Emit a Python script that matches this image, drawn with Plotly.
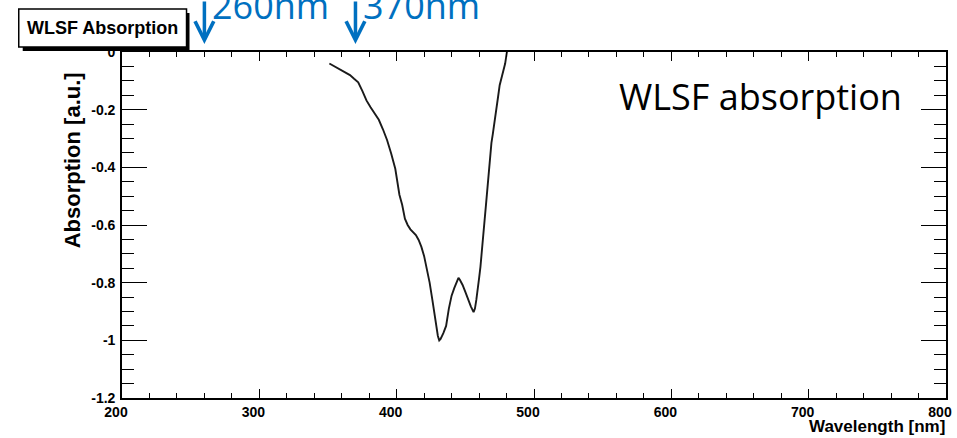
import plotly.graph_objects as go

# ---------------- data ----------------
wavelength_nm = [351, 354, 357, 360, 363, 366, 369, 372, 375, 378, 381, 384, 387, 390,
                 393, 396, 399, 402, 404, 406, 408, 410, 412, 414, 416, 418, 420, 422,
                 424, 426, 428, 430, 431, 432, 434, 436, 438, 440, 442, 444, 445, 446,
                 448, 450, 452, 454, 456, 457, 458, 459, 460, 461, 462, 463, 464, 465,
                 466, 467, 468, 469, 470, 471, 472, 473, 474, 475, 476, 477, 478, 479,
                 480, 481, 482]
absorption = [-0.040, -0.048, -0.055, -0.062, -0.070, -0.080, -0.093, -0.105, -0.135,
              -0.168, -0.192, -0.212, -0.235, -0.268, -0.305, -0.352, -0.405, -0.495,
              -0.530, -0.578, -0.600, -0.615, -0.625, -0.635, -0.652, -0.676, -0.708,
              -0.750, -0.800, -0.860, -0.925, -0.985, -1.000, -0.995, -0.975, -0.950,
              -0.890, -0.845, -0.818, -0.795, -0.783, -0.790, -0.808, -0.832, -0.860,
              -0.882, -0.902, -0.890, -0.860, -0.830, -0.785, -0.745, -0.700, -0.640,
              -0.585, -0.532, -0.475, -0.420, -0.350, -0.315, -0.285, -0.255, -0.220,
              -0.185, -0.150, -0.115, -0.098, -0.082, -0.062, -0.040, -0.008, 0.020, 0.050]

x_tick_vals = [200, 300, 400, 500, 600, 700, 800]
x_tick_text = ["200", "300", "400", "500", "600", "700", "800"]
y_tick_vals = [-1.2, -1.0, -0.8, -0.6, -0.4, -0.2, 0.0]
y_tick_text = ["-1.2", "-1", "-0.8", "-0.6", "-0.4", "-0.2", "0"]

marker_wavelengths = [260, 370]
marker_labels = ["260nm", "370nm"]

title_text = "WLSF Absorption"
x_title = "Wavelength [nm]"
y_title = "Absorption [a.u.]"
legend_text = "WLSF absorption"

# ---------------- layout geometry ----------------
W, H = 957, 438
ML, MR, MT, MB = 122, 5, 52, 40
PW, PH = W - ML - MR, H - MT - MB


def px_x(px):
    return (px - ML) / PW


def px_y(py):
    return (H - MB - py) / PH


BLUE = "#0070C0"
AXFONT = dict(family="Liberation Sans, Arial, sans-serif", size=14, color="black", weight="bold")

fig = go.Figure()
fig.add_trace(go.Scatter(x=wavelength_nm, y=absorption, mode="lines",
                         line=dict(color="#1a1a1a", width=1.9), showlegend=False,
                         hoverinfo="skip"))

fig.update_xaxes(range=[200, 800], tickvals=x_tick_vals, ticktext=x_tick_text,
                 ticks="inside", ticklen=9, tickwidth=1.3, tickcolor="black",
                 showline=True, linecolor="black", linewidth=1.6, mirror="allticks",
                 showgrid=False, zeroline=False, tickfont=AXFONT, ticklabelshift=-6,
                 minor=dict(dtick=20, tick0=200, ticks="inside", ticklen=5,
                            tickwidth=1.2, tickcolor="black", showgrid=False))
fig.update_yaxes(range=[-1.2, 0], tickvals=y_tick_vals, ticktext=y_tick_text,
                 ticks="inside", ticklen=25, tickwidth=1.3, tickcolor="black",
                 showline=True, linecolor="black", linewidth=1.6, mirror="allticks",
                 showgrid=False, zeroline=False, tickfont=AXFONT, ticklabelstandoff=2,
                 minor=dict(dtick=0.05, tick0=0, ticks="inside", ticklen=12,
                            tickwidth=1.2, tickcolor="black", showgrid=False))

shapes = [
    # title box shadow and box
    dict(type="rect", xref="paper", yref="paper", x0=px_x(22), x1=px_x(190),
         y0=px_y(51), y1=px_y(13), fillcolor="black", line=dict(width=0), layer="above"),
    dict(type="rect", xref="paper", yref="paper", x0=px_x(18), x1=px_x(187),
         y0=px_y(47), y1=px_y(9), fillcolor="white", line=dict(color="black", width=1.5),
         layer="above"),
]

annotations = [
    dict(text=title_text, xref="paper", yref="paper", x=px_x(102.5), y=px_y(28.5),
         xanchor="center", yanchor="middle", showarrow=False,
         font=dict(family="Liberation Sans, Arial, sans-serif", size=18, color="black",
                   weight="bold")),
    dict(text=x_title, xref="paper", yref="paper", x=px_x(953), y=px_y(426),
         xanchor="right", yanchor="middle", showarrow=False,
         font=dict(family="Liberation Sans, Arial, sans-serif", size=17, color="black",
                   weight="bold")),
    dict(text=y_title, xref="paper", yref="paper", x=px_x(72), y=px_y(160),
         xanchor="center", yanchor="middle", showarrow=False, textangle=-90,
         font=dict(family="Liberation Sans, Arial, sans-serif", size=22, color="black",
                   weight="bold")),
    dict(text=legend_text, xref="paper", yref="paper", x=px_x(621), y=px_y(96),
         xanchor="left", yanchor="middle", showarrow=False,
         font=dict(family="Open Sans, Noto Sans, sans-serif", size=36, color="black")),
]

for wl, lab in zip(marker_wavelengths, marker_labels):
    annotations.append(dict(text="", x=wl, xref="x", yref="paper", y=px_y(44),
                            showarrow=True, arrowhead=5, arrowsize=1.05, arrowwidth=3.5,
                            arrowcolor=BLUE, ax=0, ay=-70, standoff=0))
    annotations.append(dict(text=lab, x=wl, xref="x", yref="paper", y=px_y(5.4),
                            xanchor="left", yanchor="middle", xshift=6, showarrow=False,
                            font=dict(family="Open Sans, Noto Sans, sans-serif", size=36,
                                      color=BLUE)))

fig.update_layout(width=W, height=H, margin=dict(l=ML, r=MR, t=MT, b=MB),
                  plot_bgcolor="white", paper_bgcolor="white",
                  shapes=shapes, annotations=annotations, showlegend=False)

fig.write_html("out.html", config={"displayModeBar": False},
               post_script="document.body.style.margin='0px';document.body.style.overflow='hidden';")
